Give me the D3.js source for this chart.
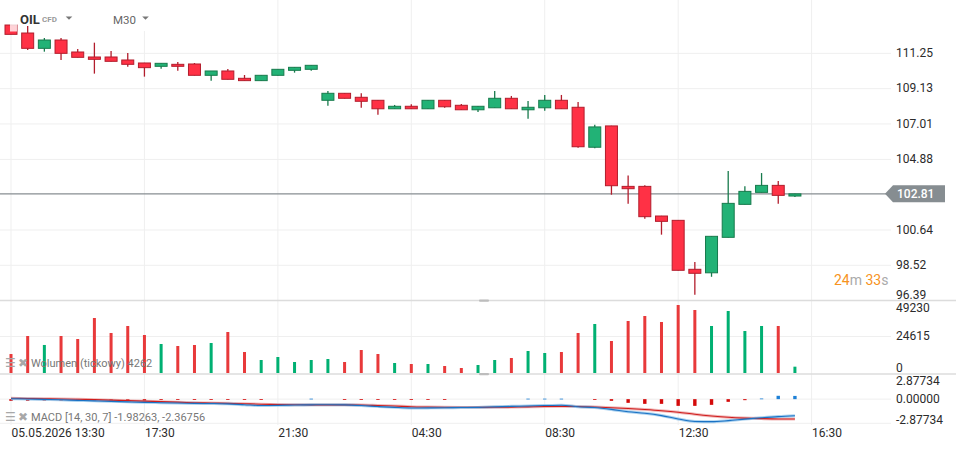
<!DOCTYPE html>
<meta charset="utf-8">
<style>
body { margin: 0; background: #fff; }
svg { display: block; font-family: Roboto, sans-serif; }
.grid line { stroke: #efefef; stroke-width: 1; }
.sep { stroke: #dcdcdc; stroke-width: 1.5; }
.axis text { fill: #2b2b2b; font-size: 12px; font-family: Roboto, sans-serif; }
.legend { fill: #777; font-size: 11px; }
.icon { fill: #a8a8a8; font-size: 12px; font-family: "DejaVu Sans", sans-serif; }
</style>
<svg width="956" height="449"></svg>
<script src="https://d3js.org/d3.v7.min.js"></script>
<script>

// OIL CFD, M30 candles from 05.05.2026 13:30
var opens  = [112.95,112.47,111.55,112.05,111.33,111.03,111.03,110.85,110.67,110.47,110.59,110.61,109.93,110.19,109.75,109.61,
              109.93,110.23,110.29,108.43,108.85,108.61,108.43,107.92,108.07,107.92,108.43,108.13,107.86,107.98,108.55,107.86,
              107.98,108.43,108.01,105.61,106.89,103.26,103.26,101.48,101.22,98.28,98.07,100.20,102.18,102.90,103.32,102.68];
var highs  = [112.97,112.89,112.17,112.17,111.51,111.89,111.39,111.27,110.68,110.66,110.73,110.67,110.19,110.31,109.95,109.94,
              110.30,110.42,110.54,108.99,108.86,108.85,108.44,108.15,108.19,108.44,108.44,108.21,108.08,108.99,108.69,108.39,
              108.75,108.75,108.33,106.96,106.90,103.92,103.32,101.49,101.23,98.72,100.27,104.18,103.26,104.06,103.58,102.82];
var lows   = [112.39,111.45,111.35,110.85,111.00,110.03,110.76,110.45,109.85,110.33,110.21,109.92,109.61,109.68,109.60,109.60,
              109.92,110.09,110.21,108.10,108.54,107.98,107.56,107.91,107.91,107.91,107.98,107.85,107.73,107.97,107.91,107.32,
              107.80,107.91,105.58,105.55,102.76,102.22,101.32,100.36,98.21,96.75,97.83,100.19,102.17,102.89,102.22,102.62];
var closes = [112.39,111.55,112.05,111.25,111.01,110.89,110.77,110.59,110.39,110.65,110.47,109.93,110.19,109.69,109.61,109.93,
              110.29,110.41,110.53,108.85,108.55,108.37,107.92,108.07,107.92,108.43,108.04,107.86,108.07,108.55,107.92,108.01,
              108.43,107.92,105.64,106.83,103.30,103.12,101.44,101.16,98.22,98.04,100.26,102.24,102.96,103.32,102.72,102.81];
var volumes = [12800,24950,18900,24950,22930,37090,26980,31700,25630,19560,18210,18880,20230,27650,14160,8770,
               10790,7420,8770,9440,7420,15510,12810,6740,6070,6070,4720,3370,5400,8770,10120,14840,
               13490,14160,26980,33050,21580,35070,38440,34400,45860,42490,31700,41810,28320,31700,31700,4262];
var macdLine = [0.05,0.02,-0.03,-0.08,-0.15,-0.2,-0.26,-0.32,-0.38,-0.42,-0.46,-0.5,-0.52,-0.56,-0.66,-0.76,
                -0.74,-0.7,-0.68,-0.66,-0.68,-0.76,-0.88,-0.98,-1.05,-1.04,-1.02,-1.0,-0.98,-0.92,-0.86,-0.82,
                -0.76,-0.72,-0.9,-1.0,-1.22,-1.5,-1.68,-1.96,-2.36,-2.66,-2.68,-2.56,-2.38,-2.22,-2.08,-1.98263];
var signalLine = [0.1,0.08,0.05,0.02,-0.02,-0.06,-0.12,-0.18,-0.24,-0.3,-0.36,-0.42,-0.46,-0.5,-0.55,-0.6,
                  -0.64,-0.66,-0.68,-0.68,-0.68,-0.7,-0.76,-0.82,-0.9,-0.94,-0.97,-0.98,-0.98,-0.97,-0.95,-0.92,
                  -0.88,-0.86,-0.88,-0.94,-1.02,-1.12,-1.24,-1.38,-1.56,-1.8,-2.0,-2.16,-2.26,-2.32,-2.36,-2.36756];
var histogram = [-0.2,-0.2,-0.2,-0.2,-0.2,-0.2,-0.2,-0.2,-0.2,-0.06,-0.06,-0.06,-0.06,-0.06,-0.06,-0.06,
                 0,0,0.06,0,-0.06,-0.06,-0.06,-0.06,-0.06,-0.06,-0.06,0,0,0,0,0.06,
                 0.06,0.06,0,-0.08,-0.2,-0.44,-0.56,-0.56,-0.8,-0.8,-0.68,-0.32,-0.12,0.08,0.4,0.385];

var priceTicks = [111.25, 109.13, 107.01, 104.88, 100.64, 98.52, 96.39];
var volumeTicks = [49230, 24615, 0];
var macdTicks = [2.87734, 0, -2.87734];
var timeTicks = [0, 8, 16, 24, 32, 40, 48];
var timeLabels = ["05.05.2026 13:30", "17:30", "21:30", "04:30", "08:30", "12:30", "16:30"];
var lastPrice = 102.81;

var svg = d3.select("svg");
var W = 956, H = 449;
var priceBottom = 300, volBottom = 373.5, macdBottom = 425;
var fmt = d3.formatLocale({decimal: ".", thousands: "", grouping: [3], currency: ["", ""], minus: "-"}).format;

var x = d3.scaleLinear().domain([0, 48]).range([11, 811.6]);
var y = d3.scaleLinear().domain([111.25, 100.64]).range([53.33, 230]);
var yVol = d3.scaleLinear().domain([0, 24615]).range([373, 336.5]);
var yMacd = d3.scaleLinear().domain([2.87734, -2.87734]).range([375, 423.3]);

var up = "#22b276", upLine = "#177a4c", down = "#ff3145", downLine = "#b21d2c";

// grid
var grid = svg.append("g").attr("class", "grid");
grid.selectAll(".v").data(timeTicks).enter().append("line")
  .attr("x1", d => x(d)).attr("x2", d => x(d)).attr("y1", 0).attr("y2", macdBottom);
grid.selectAll(".hp").data(priceTicks.filter(d => y(d) < priceBottom - 3)).enter().append("line")
  .attr("x1", 0).attr("x2", 891).attr("y1", d => y(d)).attr("y2", d => y(d));
grid.append("line").attr("x1", 0).attr("x2", 891).attr("y1", yVol(24615)).attr("y2", yVol(24615));
grid.selectAll(".hm").data([0, -2.87734]).enter().append("line")
  .attr("x1", 0).attr("x2", 891).attr("y1", d => yMacd(d)).attr("y2", d => yMacd(d));

// header backdrop
svg.append("rect").attr("x", 0).attr("y", 0).attr("width", 262).attr("height", 31).attr("fill", "#fff");

// pane separators
[priceBottom + 0.5, volBottom + 0.5].forEach(function (yy) {
  svg.append("line").attr("class", "sep").attr("x1", 0).attr("x2", W).attr("y1", yy).attr("y2", yy);
  svg.append("rect").attr("x", 479).attr("y", yy - 1).attr("width", 10).attr("height", 2.2)
    .attr("rx", 1).attr("fill", "#bdbdbd");
});

// current price line
svg.append("line").attr("x1", 0).attr("x2", 886).attr("y1", y(lastPrice)).attr("y2", y(lastPrice))
  .attr("stroke", "#878e92").attr("stroke-width", 1.4);

// candles
var idx = d3.range(opens.length);
var bw = 12;
var candles = svg.append("g").selectAll("g").data(idx).enter().append("g");
candles.append("line")
  .attr("x1", i => x(i)).attr("x2", i => x(i))
  .attr("y1", i => y(highs[i])).attr("y2", i => y(lows[i]))
  .attr("stroke", i => closes[i] >= opens[i] ? upLine : downLine).attr("stroke-width", 1.3);
candles.append("rect")
  .attr("x", i => x(i) - bw / 2).attr("width", bw)
  .attr("y", i => y(Math.max(opens[i], closes[i])))
  .attr("height", i => Math.max(1.5, Math.abs(y(opens[i]) - y(closes[i]))))
  .attr("fill", i => closes[i] >= opens[i] ? up : down)
  .attr("stroke", i => closes[i] >= opens[i] ? upLine : downLine).attr("stroke-width", 1);

svg.append("rect").attr("x", 10).attr("y", 23.5).attr("width", 7).attr("height", 8)
  .attr("fill", "#fff").attr("opacity", 0.78);

// volume
svg.append("g").selectAll("rect").data(idx).enter().append("rect")
  .attr("x", i => x(i) - 1.5).attr("width", 3)
  .attr("y", i => yVol(volumes[i])).attr("height", i => yVol(0) - yVol(volumes[i]))
  .attr("fill", i => closes[i] >= opens[i] ? "#00b072" : "#e8393a");

// macd histogram
svg.append("g").selectAll("rect").data(idx.filter(i => histogram[i] !== 0)).enter().append("rect")
  .attr("x", i => x(i) - 1.7).attr("width", 3.4)
  .attr("y", i => Math.min(yMacd(0), yMacd(histogram[i])))
  .attr("height", i => Math.max(0.8, Math.abs(yMacd(histogram[i]) - yMacd(0))))
  .attr("fill", i => histogram[i] > 0 ? "#1e80d6" : "#d40a0a");

var lineGen = function (arr) {
  return d3.line().x(i => x(i)).y(i => yMacd(arr[i])).curve(d3.curveMonotoneX)(idx);
};
svg.append("path").attr("d", lineGen(signalLine)).attr("fill", "none")
  .attr("stroke", "#e88a8a").attr("stroke-width", 3).attr("opacity", 0.6);
svg.append("path").attr("d", lineGen(macdLine)).attr("fill", "none")
  .attr("stroke", "#86bde8").attr("stroke-width", 3).attr("opacity", 0.7);
svg.append("path").attr("d", lineGen(signalLine)).attr("fill", "none")
  .attr("stroke", "#cf1d1d").attr("stroke-width", 1.1);
svg.append("path").attr("d", lineGen(macdLine)).attr("fill", "none")
  .attr("stroke", "#1a72c4").attr("stroke-width", 1.1);

// right axes
function clampLabels(g, scale, top, bottom) {
  g.selectAll(".tick").attr("transform", function (d) {
    var yy = Math.max(top + 8, Math.min(bottom - 5, scale(d)));
    return "translate(0," + yy + ")";
  });
  g.select(".domain").remove();
  g.attr("font-size", null).attr("font-family", null);
}
var gP = svg.append("g").attr("class", "axis").attr("transform", "translate(896,0)")
  .call(d3.axisRight(y).tickValues(priceTicks).tickSize(0).tickPadding(0).tickFormat(fmt(".2f")));
clampLabels(gP, y, 0, priceBottom);
var gV = svg.append("g").attr("class", "axis").attr("transform", "translate(896,0)")
  .call(d3.axisRight(yVol).tickValues(volumeTicks).tickSize(0).tickPadding(0).tickFormat(fmt("d")));
clampLabels(gV, yVol, priceBottom, volBottom);
var gM = svg.append("g").attr("class", "axis").attr("transform", "translate(896,0)")
  .call(d3.axisRight(yMacd).tickValues(macdTicks).tickSize(0).tickPadding(0).tickFormat(fmt(".5f")));
clampLabels(gM, yMacd, volBottom, macdBottom);

// time axis
var gX = svg.append("g").attr("class", "axis").attr("transform", "translate(0,428.5)")
  .call(d3.axisBottom(x).tickValues(timeTicks).tickSize(0).tickPadding(0)
    .tickFormat((d, i) => timeLabels[i]));
gX.select(".domain").remove();
gX.selectAll("text").attr("text-anchor", "start");
gX.attr("font-size", null).attr("font-family", null);

// price tag
var ty = y(lastPrice);
svg.append("path")
  .attr("d", "M885," + ty + "L893," + (ty - 8.5) + "H945V" + (ty + 8.5) + "H893Z")
  .attr("fill", "#868d91");
svg.append("text").attr("x", 897).attr("y", ty).attr("dy", "0.35em")
  .attr("fill", "#fff").attr("font-size", 12).attr("font-weight", 500).text(fmt(".2f")(lastPrice));

// countdown
var cd = svg.append("text").attr("x", 834).attr("y", 285).attr("font-size", 14);
cd.append("tspan").attr("fill", "#f7931e").text("24");
cd.append("tspan").attr("fill", "#aaaaaa").text("m ");
cd.append("tspan").attr("fill", "#f7931e").text("33");
cd.append("tspan").attr("fill", "#aaaaaa").text("s");

// header
svg.append("text").attr("x", 20).attr("y", 24).attr("font-size", 13).attr("font-weight", 700)
  .attr("fill", "#333").text("OIL");
svg.append("text").attr("x", 42).attr("y", 22).attr("font-size", 8).attr("font-weight", 700)
  .attr("fill", "#9a9a9a").text("CFD");
svg.append("text").attr("x", 113).attr("y", 24).attr("font-size", 11.5)
  .attr("fill", "#666").text("M30");
[69, 145.5].forEach(function (cx) {
  svg.append("path").attr("d", "M" + (cx - 3.3) + ",16.5H" + (cx + 3.3) + "L" + cx + ",19.8Z").attr("fill", "#777");
});

// pane legends
function legend(yy, label) {
  svg.append("text").attr("class", "icon").attr("x", 5).attr("y", yy + 4).text("\u2630");
  svg.append("text").attr("class", "icon").attr("x", 18).attr("y", yy + 4).text("\u2716");
  svg.append("text").attr("class", "legend").attr("x", 31).attr("y", yy + 4).text(label);
}
legend(362.5, "Wolumen (tickowy) " + volumes[47]);
legend(417, "MACD [14, 30, 7] " + fmt(".5f")(macdLine[47]) + ", " + fmt(".5f")(signalLine[47]));

</script>
